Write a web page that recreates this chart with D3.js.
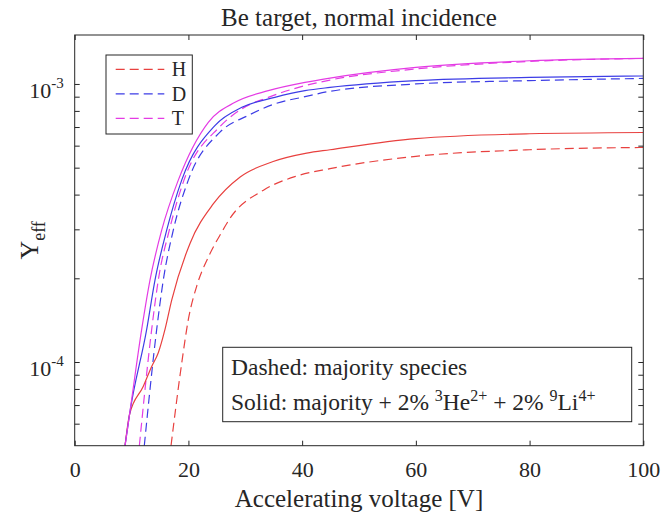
<!DOCTYPE html>
<html>
<head>
<meta charset="utf-8">
<script src="https://cdn.jsdelivr.net/npm/d3@7"></script>
<style>
  body { margin: 0; background: #fff; }
  text { font-family: "Liberation Serif", "Times New Roman", serif; fill: #262626; }
</style>
</head>
<body>
<svg id="chart"></svg>
<script>
const width = 662;
const height = 517;
const margin = { top: 35, right: 18.7, bottom: 71.3, left: 74.7 };

// x: accelerating voltage [V], y: effective yield
const xTicks = [0, 20, 40, 60, 80, 100];
const yMajorTicks = [1e-4, 1e-3];
const yMinorTicks = [6e-5, 7e-5, 8e-5, 9e-5, 2e-4, 3e-4, 4e-4, 5e-4, 6e-4, 7e-4, 8e-4, 9e-4];

// dashed: majority species only
const hDashed = [[16.94, 5.0e-5], [18.82, 9.9e-5], [19.98, 1.42e-4], [21.51, 1.89e-4], [23.44, 2.37e-4],
  [25.85, 2.93e-4], [27.33, 3.29e-4], [33.2, 4.15e-4], [39.0, 4.66e-4], [44.9, 4.96e-4],
  [60, 5.49e-4], [80, 5.80e-4], [100, 5.91e-4]];
const dDashed = [[12.24, 5.0e-5], [14.42, 1.31e-4], [15.58, 1.97e-4], [17.34, 2.98e-4], [19.98, 4.51e-4],
  [25.55, 6.71e-4], [30.5, 7.7e-4], [35.2, 8.48e-4], [40.5, 9.0e-4], [44.9, 9.41e-4],
  [60, 1.0e-3], [80, 1.028e-3], [100, 1.047e-3]];
const tDashed = [[11.37, 5.0e-5], [13.54, 1.31e-4], [14.70, 1.97e-4], [16.64, 2.98e-4], [19.22, 4.51e-4],
  [25.55, 7.03e-4], [29.4, 8.14e-4], [34.05, 8.95e-4], [40.5, 9.86e-4], [44.9, 1.033e-3],
  [60, 1.132e-3], [80, 1.205e-3], [100, 1.236e-3]];

// solid: majority + 2% 3He2+ + 2% 9Li4+
const hSolid = [[8.85, 5.0e-5], [9.64, 6.47e-5], [12.07, 8.18e-5], [13.54, 9.64e-5], [14.7, 1.08e-4],
  [15.88, 1.31e-4], [17.06, 1.67e-4], [20.28, 2.67e-4], [24.4, 3.71e-4], [29.1, 4.63e-4], [34.9, 5.26e-4],
  [40.8, 5.64e-4], [44.9, 5.80e-4], [60, 6.36e-4], [80, 6.62e-4], [100, 6.69e-4]];
const dSolid = [[8.85, 5.0e-5], [9.64, 6.47e-5], [12.66, 1.31e-4], [14.12, 1.97e-4], [16.18, 2.98e-4],
  [18.82, 4.51e-4], [24.7, 7.1e-4], [29.4, 8.24e-4], [35.2, 8.95e-4], [40.5, 9.46e-4],
  [44.9, 9.72e-4], [60, 1.028e-3], [80, 1.056e-3], [100, 1.068e-3]];
const tSolid = [[8.85, 5.0e-5], [9.64, 6.47e-5], [11.78, 1.31e-4], [13.24, 1.97e-4], [15.30, 2.98e-4],
  [18.22, 4.51e-4], [23.5, 7.28e-4], [28.2, 8.59e-4], [34.05, 9.46e-4], [40.5, 1.013e-3],
  [44.9, 1.05e-3], [60, 1.147e-3], [80, 1.212e-3], [100, 1.236e-3]];

const species = ["H", "D", "T"];
const colors = { H: "#e8413f", D: "#3d3de6", T: "#e43be4" };

const series = [
  { name: "H", dashed: true, data: hDashed },
  { name: "D", dashed: true, data: dDashed },
  { name: "T", dashed: true, data: tDashed },
  { name: "H", dashed: false, data: hSolid },
  { name: "D", dashed: false, data: dSolid },
  { name: "T", dashed: false, data: tSolid }
];

const svg = d3.select("#chart")
  .attr("width", width)
  .attr("height", height);

const x = d3.scaleLinear()
  .domain([0, 100])
  .range([margin.left, width - margin.right]);

const y = d3.scaleLog()
  .domain([5e-5, 1.5e-3])
  .range([height - margin.bottom, margin.top]);

svg.append("clipPath")
  .attr("id", "plot-clip")
  .append("rect")
  .attr("x", margin.left)
  .attr("y", margin.top)
  .attr("width", width - margin.left - margin.right)
  .attr("height", height - margin.top - margin.bottom);

// curves
const line = d3.line()
  .x(d => x(d[0]))
  .y(d => y(d[1]))
  .curve(d3.curveMonotoneX);

svg.append("g")
  .attr("clip-path", "url(#plot-clip)")
  .selectAll("path")
  .data(series)
  .enter()
  .append("path")
  .attr("d", d => line(d.data))
  .attr("fill", "none")
  .attr("stroke", d => colors[d.name])
  .attr("stroke-width", 1.2)
  .attr("stroke-dasharray", d => d.dashed ? "9,5" : null);

// axes, ticks pointing inward
const allY = yMajorTicks.concat(yMinorTicks);

const xAxis = svg.append("g")
  .attr("transform", `translate(0, ${height - margin.bottom})`)
  .call(d3.axisBottom(x).tickValues(xTicks).tickSize(-5).tickPadding(16).tickFormat(d3.format("d")));

svg.append("g")
  .attr("transform", `translate(0, ${margin.top})`)
  .call(d3.axisTop(x).tickValues(xTicks).tickSize(-5).tickFormat(""));

svg.append("g")
  .attr("transform", `translate(${margin.left}, 0)`)
  .call(d3.axisLeft(y).tickValues(allY).tickSize(-5).tickFormat(""));

svg.append("g")
  .attr("transform", `translate(${width - margin.right}, 0)`)
  .call(d3.axisRight(y).tickValues(allY).tickSize(-5).tickFormat(""));

svg.selectAll(".domain").remove();
svg.selectAll(".tick line").attr("stroke", "#262626");
xAxis.selectAll("text")
  .style("font-family", '"Liberation Serif", serif')
  .style("font-size", "22px")
  .attr("fill", "#262626");

// y tick labels as powers of ten
const yLabels = svg.append("g");
yMajorTicks.forEach(v => {
  const t = yLabels.append("text")
    .attr("x", margin.left - 11)
    .attr("y", y(v) + 14)
    .attr("text-anchor", "end")
    .style("font-size", "22px");
  t.append("tspan").text("10");
  t.append("tspan")
    .attr("dy", -10)
    .style("font-size", "15px")
    .text(String(Math.round(Math.log10(v))));
});

// frame
svg.append("rect")
  .attr("x", margin.left)
  .attr("y", margin.top)
  .attr("width", width - margin.left - margin.right)
  .attr("height", height - margin.top - margin.bottom)
  .attr("fill", "none")
  .attr("stroke", "#262626")
  .attr("stroke-width", 1);

// title and axis labels
svg.append("text")
  .attr("x", (margin.left + width - margin.right) / 2)
  .attr("y", 26)
  .attr("text-anchor", "middle")
  .style("font-size", "25px")
  .text("Be target, normal incidence");

svg.append("text")
  .attr("x", (margin.left + width - margin.right) / 2)
  .attr("y", 507)
  .attr("text-anchor", "middle")
  .style("font-size", "25px")
  .text("Accelerating voltage [V]");

const yTitle = svg.append("text")
  .attr("transform", `translate(38, ${(margin.top + height - margin.bottom) / 2}) rotate(-90)`)
  .attr("text-anchor", "middle")
  .style("font-size", "26px");
yTitle.append("tspan").text("Y");
yTitle.append("tspan").attr("dy", 7).style("font-size", "18px").text("eff");

// legend
const legend = svg.append("g");
legend.append("rect")
  .attr("x", 106).attr("y", 55)
  .attr("width", 86.3).attr("height", 79)
  .attr("fill", "#fff")
  .attr("stroke", "#262626")
  .attr("stroke-width", 1);

species.forEach((s, i) => {
  const ly = 69.3 + i * 24.5;
  legend.append("line")
    .attr("x1", 115.7).attr("x2", 164.3)
    .attr("y1", ly).attr("y2", ly)
    .attr("stroke", colors[s])
    .attr("stroke-width", 1.2)
    .attr("stroke-dasharray", "9,5");
  legend.append("text")
    .attr("x", 171.7)
    .attr("y", ly + 7)
    .style("font-size", "20px")
    .text(s);
});

// annotation box
const note = svg.append("g");
note.append("rect")
  .attr("x", 222.7).attr("y", 347.3)
  .attr("width", 409).attr("height", 74.4)
  .attr("fill", "#fff")
  .attr("stroke", "#262626")
  .attr("stroke-width", 1);

note.append("text")
  .attr("x", 231).attr("y", 375)
  .style("font-size", "23.5px")
  .text("Dashed: majority species");

const solidNote = note.append("text")
  .attr("x", 231).attr("y", 410)
  .style("font-size", "23.5px");
solidNote.append("tspan").text("Solid: majority + 2% ");
solidNote.append("tspan").attr("dy", -9).style("font-size", "16px").text("3");
solidNote.append("tspan").attr("dy", 9).text("He");
solidNote.append("tspan").attr("dy", -9).style("font-size", "16px").text("2+");
solidNote.append("tspan").attr("dy", 9).text(" + 2% ");
solidNote.append("tspan").attr("dy", -9).style("font-size", "16px").text("9");
solidNote.append("tspan").attr("dy", 9).text("Li");
solidNote.append("tspan").attr("dy", -9).style("font-size", "16px").text("4+");
</script>
</body>
</html>
